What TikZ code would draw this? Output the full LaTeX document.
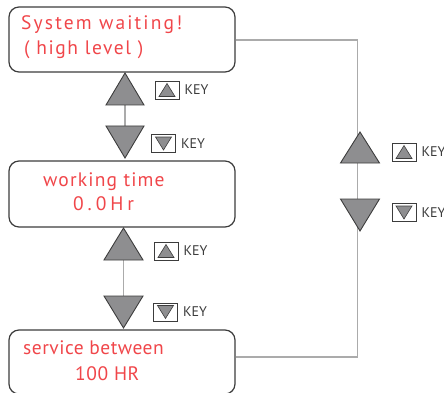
\documentclass[tikz,border=0pt]{standalone}
\usepackage{fontspec}
\setmainfont{PT Sans}
\newfontfamily\lcdfont{PT Sans}
\definecolor{lcdred}{HTML}{F0464A}
\definecolor{boxgray}{HTML}{3C3C3C}
\definecolor{trifill}{HTML}{8E8E90}
\definecolor{linkgray}{HTML}{ABABAB}
\tikzset{
  screen/.style={draw=boxgray, line width=1.2pt, rounded corners=10pt, minimum width=226pt, inner sep=0pt},
  lcd/.style={anchor=base west, inner sep=0pt, text=lcdred, font=\lcdfont\fontsize{19.5}{22}\selectfont\addfontfeature{LetterSpace=#1}},
  lcd/.default=6,
  tri/.style={draw=boxgray, fill=trifill, line width=0.9pt, line join=miter},
  smalltri/.style={draw=boxgray, fill=trifill, line width=0.6pt},
  link/.style={draw=linkgray, line width=1.4pt},
  keybox/.style={draw=boxgray, line width=0.7pt, minimum width=24pt, minimum height=18pt, inner sep=0pt},
  keytext/.style={anchor=west, inner sep=0pt, text=boxgray, font=\fontsize{14}{16}\selectfont}
}
\begin{document}
\begin{tikzpicture}[x=1pt,y=-1pt]
\useasboundingbox (0,0) rectangle (444,393);
\clip (0,0) rectangle (444,393);

% screens
\node[screen, minimum height=65pt] (s1) at (122,39.5) {};
\node[screen, minimum height=66pt] (s2) at (122,194) {};
\node[screen, minimum height=64pt] (s3) at (122,362) {};

% texts
\node[lcd=11] (t1a) at (21,30) {System waiting!};
\node[lcd=8] (t1b) at (24,55) {( high level )};
\node[lcd=6] (t2a) at (43,186) {working time};
\node[lcd=20] (t2b) at (73,210) {0.0Hr};
\node[lcd=2.5] (t3a) at (23,354) {service between};
\node[lcd=3] (t3b) at (75,380) {100 HR};

% right loop
\coordinate (c1) at (357.5,40);
\coordinate (c2) at (357.5,357);
\draw[link] (s1.east |- c1) -- (c1) -- (c2) -- (s3.east |- c2);

% left column links
\coordinate (u1b) at (125,105);
\coordinate (d1b) at (125,126);
\coordinate (u2b) at (123.5,260);
\coordinate (d2b) at (123.5,296);
\draw[link] (u1b) -- (d1b);
\draw[link] (u2b) -- (d2b);

% left triangles
\draw[tri] (u1b) -- ++(19,0) -- ++(-19,-32) -- ++(-19,32) -- cycle;
\draw[tri] (d1b) -- ++(19,0) -- ++(-19,32) -- ++(-19,-32) -- cycle;
\draw[tri] (u2b) -- ++(19.5,0) -- ++(-19.5,-32) -- ++(-19.5,32) -- cycle;
\draw[tri] (d2b) -- ++(19.5,0) -- ++(-19.5,32) -- ++(-19.5,-32) -- cycle;

% right triangles
\coordinate (u3b) at (360,163);
\coordinate (d3b) at (360,199);
\draw[tri] (u3b) -- ++(19.5,0) -- ++(-19.5,-31) -- ++(-19.5,31) -- cycle;
\draw[tri] (d3b) -- ++(19.5,0) -- ++(-19.5,32) -- ++(-19.5,-32) -- cycle;

% key icons
\node[keybox] (k1) at (167,90) {};
\draw[smalltri] ([shift={(0,-6.5)}]k1.center) -- ++(8,13) -- ++(-16,0) -- cycle;
\node[keytext] (kt1) at ([xshift=5pt]k1.east) {KEY};

\node[keybox] (k2) at (163.5,143.5) {};
\draw[smalltri] ([shift={(0,6.5)}]k2.center) -- ++(8,-13) -- ++(-16,0) -- cycle;
\node[keytext] (kt2) at ([xshift=5pt]k2.east) {KEY};

\node[keybox] (k3) at (166,251) {};
\draw[smalltri] ([shift={(0,-6.5)}]k3.center) -- ++(8,13) -- ++(-16,0) -- cycle;
\node[keytext] (kt3) at ([xshift=5pt]k3.east) {KEY};

\node[keybox] (k4) at (165.5,312) {};
\draw[smalltri] ([shift={(0,6.5)}]k4.center) -- ++(8,-13) -- ++(-16,0) -- cycle;
\node[keytext] (kt4) at ([xshift=5pt]k4.east) {KEY};

\node[keybox] (k5) at (404,152) {};
\draw[smalltri] ([shift={(0,-6.5)}]k5.center) -- ++(8,13) -- ++(-16,0) -- cycle;
\node[keytext] (kt5) at ([xshift=5pt]k5.east) {KEY};

\node[keybox] (k6) at (404,212.5) {};
\draw[smalltri] ([shift={(0,6.5)}]k6.center) -- ++(8,-13) -- ++(-16,0) -- cycle;
\node[keytext] (kt6) at ([xshift=5pt]k6.east) {KEY};
\end{tikzpicture}
\end{document}
